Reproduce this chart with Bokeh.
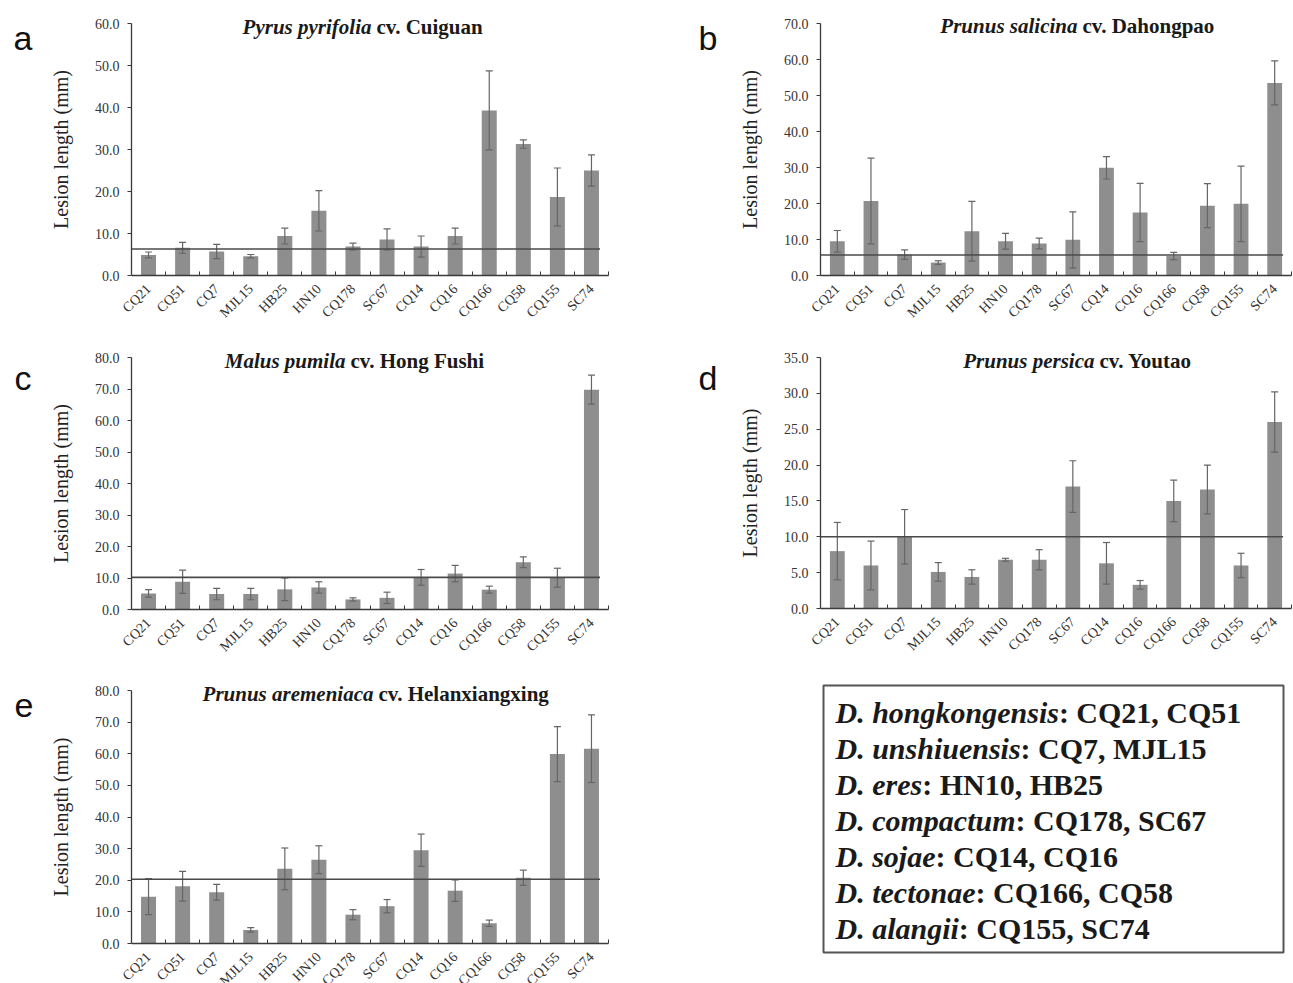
import math
from bokeh.plotting import figure
from bokeh.layouts import column, row
from bokeh.models import Range1d, FixedTicker, PrintfTickFormatter, Label
from bokeh.embed import file_html
from bokeh.resources import INLINE

# ---------------- data ----------------
strains = ["CQ21", "CQ51", "CQ7", "MJL15", "HB25", "HN10", "CQ178", "SC67",
           "CQ14", "CQ16", "CQ166", "CQ58", "CQ155", "SC74"]

a_mean = [4.9, 6.6, 5.7, 4.6, 9.4, 15.4, 6.9, 8.6, 6.9, 9.4, 39.3, 31.3, 18.7, 25.0]
a_sd = [0.7, 1.3, 1.7, 0.4, 1.9, 4.8, 0.8, 2.5, 2.5, 1.9, 9.4, 1.0, 6.9, 3.7]
a_ref = 6.3

b_mean = [9.5, 20.7, 5.8, 3.6, 12.3, 9.5, 8.9, 9.9, 29.9, 17.5, 5.4, 19.4, 19.9, 53.5]
b_sd = [3.0, 11.9, 1.3, 0.5, 8.3, 2.2, 1.5, 7.8, 3.1, 8.1, 1.0, 6.1, 10.5, 6.1]
b_ref = 5.7

c_mean = [5.1, 8.8, 4.9, 4.9, 6.4, 7.0, 3.2, 3.7, 10.2, 11.4, 6.3, 15.0, 10.1, 69.8]
c_sd = [1.2, 3.7, 1.8, 1.8, 3.6, 1.8, 0.5, 1.8, 2.5, 2.6, 1.1, 1.7, 3.0, 4.6]
c_ref = 10.2

d_mean = [8.0, 6.0, 10.0, 5.1, 4.4, 6.8, 6.8, 17.0, 6.3, 3.3, 15.0, 16.6, 6.0, 26.0]
d_sd = [4.0, 3.4, 3.8, 1.3, 1.0, 0.2, 1.4, 3.6, 2.9, 0.6, 2.9, 3.4, 1.7, 4.2]
d_ref = 10.0

e_mean = [14.8, 18.1, 16.2, 4.3, 23.6, 26.5, 9.1, 11.8, 29.5, 16.7, 6.4, 20.8, 59.9, 61.6]
e_sd = [5.7, 4.7, 2.5, 0.7, 6.6, 4.4, 1.6, 2.1, 5.1, 3.4, 1.0, 2.4, 8.7, 10.7]
e_ref = 20.3

titles_italic = ["Pyrus pyrifolia", "Prunus salicina", "Malus pumila", "Prunus persica", "Prunus aremeniaca"]
titles_rest = ["cv. Cuiguan", "cv. Dahongpao", "cv. Hong Fushi", "cv. Youtao", "cv. Helanxiangxing"]
y_labels = ["Lesion length (mm)", "Lesion length (mm)", "Lesion length (mm)", "Lesion legth (mm)", "Lesion length (mm)"]
letters = ["a", "b", "c", "d", "e"]

legend_species = ["D. hongkongensis", "D. unshiuensis", "D. eres", "D. compactum",
                  "D. sojae", "D. tectonae", "D. alangii"]
legend_strains = [": CQ21, CQ51", ": CQ7, MJL15", ": HN10, HB25", ": CQ178, SC67",
                  ": CQ14, CQ16", ": CQ166, CQ58", ": CQ155, SC74"]

# ---------------- style ----------------
SERIF = "Liberation Serif"
SANS = "Liberation Sans"
BAR = "#8e8e8e"
ERR = "#666666"
REF = "#4a4a4a"
AXIS = "#3a3a3a"
TXT = "#1a1a1a"
N = len(strains)

# Times bold-italic advance widths (per 1000 em) for legend layout
BI_W = {"D": 722, ".": 250, " ": 250, "h": 556, "o": 500, "n": 556, "g": 500, "k": 500,
        "e": 444, "s": 389, "i": 278, "u": 556, "r": 389, "c": 444, "m": 778, "p": 500,
        "t": 278, "a": 500, "j": 278, "l": 278}


def make_panel(W, H, fl, fr, ft, fb, ymax, ystep, means, sds, ref,
               t_it, t_rest, tj, ty, letter, lx, ly, ylabel):
    ppx = (fr - fl) / N
    ppy = (fb - ft) / ymax
    p = figure(frame_width=W, frame_height=H,
               x_range=Range1d(-fl / ppx, N + (W - fr) / ppx),
               y_range=Range1d(-(H - fb) / ppy, ymax + ft / ppy),
               output_backend="svg", toolbar_location=None, tools="",
               min_border=0)
    p.outline_line_color = None
    p.xgrid.visible = False
    p.ygrid.visible = False

    def dx(px):
        return (px - fl) / ppx

    def dy(py):
        return (fb - py) / ppy

    centers = [i + 0.5 for i in range(N)]
    lo = [m - s for m, s in zip(means, sds)]
    hi = [m + s for m, s in zip(means, sds)]
    cap = 3.5 / ppx

    p.vbar(x=centers, top=means, bottom=0, width=0.44, fill_color=BAR, line_color=None)
    p.segment(x0=centers, y0=lo, x1=centers, y1=hi, line_color=ERR, line_width=1.2)
    p.segment(x0=[c - cap for c in centers], y0=hi, x1=[c + cap for c in centers], y1=hi,
              line_color=ERR, line_width=1.2)
    p.segment(x0=[c - cap for c in centers], y0=lo, x1=[c + cap for c in centers], y1=lo,
              line_color=ERR, line_width=1.2)
    p.segment(x0=[0], y0=[ref], x1=[N - 0.25], y1=[ref], line_color=REF, line_width=1.6)

    # y axis, pinned at x = 0
    ya = p.yaxis[0]
    ya.fixed_location = 0
    ya.bounds = (0, ymax)
    ya.ticker = FixedTicker(ticks=[k * ystep for k in range(int(round(ymax / ystep)) + 1)])
    ya.formatter = PrintfTickFormatter(format="%.1f")
    ya.axis_line_color = AXIS
    ya.axis_line_width = 1.3
    ya.major_tick_line_color = AXIS
    ya.major_tick_in = 0
    ya.major_tick_out = 4
    ya.minor_tick_line_color = None
    ya.major_label_text_font = SERIF
    ya.major_label_text_font_size = "14px"
    ya.major_label_text_color = "#333333"
    ya.major_label_standoff = 8
    ya.axis_label = ylabel
    ya.axis_label_text_font = SERIF
    ya.axis_label_text_font_style = "normal"
    ya.axis_label_text_font_size = "20px"
    ya.axis_label_text_color = "#222222"
    ya.axis_label_standoff = 20

    # x axis, pinned at y = 0: labels at bar centres, small inward ticks at boundaries
    xa = p.xaxis[0]
    xa.fixed_location = 0
    xa.bounds = (0, N)
    xa.ticker = FixedTicker(ticks=centers, minor_ticks=list(range(1, N + 1)))
    xa.major_label_overrides = {c: s for c, s in zip(centers, strains)}
    xa.axis_line_color = AXIS
    xa.axis_line_width = 1.3
    xa.major_tick_line_color = None
    xa.minor_tick_line_color = AXIS
    xa.minor_tick_in = 4
    xa.minor_tick_out = 0
    xa.major_label_orientation = math.pi / 4
    xa.major_label_standoff = 5
    xa.major_label_text_font = SERIF
    xa.major_label_text_font_size = "14px"
    xa.major_label_text_color = "#333333"

    # title (italic + normal parts)
    p.add_layout(Label(x=dx(tj), y=dy(ty), text=t_it, text_font=SERIF,
                       text_font_style="bold italic", text_font_size="21px",
                       text_align="right", text_baseline="middle", text_color=TXT))
    p.add_layout(Label(x=dx(tj + 5), y=dy(ty), text=t_rest, text_font=SERIF,
                       text_font_style="bold", text_font_size="21px",
                       text_align="left", text_baseline="middle", text_color=TXT))
    # panel letter
    p.add_layout(Label(x=dx(lx), y=dy(ly), text=letter, text_font=SANS,
                       text_font_size="34px", text_align="left",
                       text_baseline="alphabetic", text_color="#111111"))
    return p


pa = make_panel(640, 330, 131, 608, 23, 275, 60, 10, a_mean, a_sd, a_ref,
                titles_italic[0], titles_rest[0], 371, 26, letters[0], 13, 37, y_labels[0])
pb = make_panel(653, 330, 180, 651, 23, 275, 70, 10, b_mean, b_sd, b_ref,
                titles_italic[1], titles_rest[1], 437, 25, letters[1], 58, 37, y_labels[1])
pc = make_panel(640, 330, 131, 608, 27, 279, 80, 10, c_mean, c_sd, c_ref,
                titles_italic[2], titles_rest[2], 345, 30, letters[2], 14, 47, y_labels[2])
pd_ = make_panel(653, 330, 180, 651, 27, 278, 35, 5, d_mean, d_sd, d_ref,
                 titles_italic[3], titles_rest[3], 454, 30, letters[3], 58, 47, y_labels[3])
pe = make_panel(640, 323, 131, 608, 30, 283, 80, 10, e_mean, e_sd, e_ref,
                titles_italic[4], titles_rest[4], 373, 33, letters[4], 14, 45, y_labels[4])

# ---------------- legend box ----------------
LW, LH = 653, 323
pl = figure(frame_width=LW, frame_height=LH, x_range=Range1d(0, LW), y_range=Range1d(LH, 0),
            output_backend="svg", toolbar_location=None, tools="",
            x_axis_location=None, y_axis_location=None, min_border=0)
pl.grid.visible = False
pl.outline_line_color = None
pl.quad(left=[183], right=[643], top=[25], bottom=[292], fill_color=None,
        line_color="#555555", line_width=2)
FS = 30
for k, (sp, st) in enumerate(zip(legend_species, legend_strains)):
    yk = 52 + 36 * k
    wsp = sum(BI_W.get(ch, 500) for ch in sp) * FS / 1000.0
    pl.add_layout(Label(x=195, y=yk, text=sp, text_font=SERIF, text_font_style="bold italic",
                        text_font_size=f"{FS}px", text_align="left", text_baseline="middle",
                        text_color=TXT))
    pl.add_layout(Label(x=195 + wsp, y=yk, text=st, text_font=SERIF, text_font_style="bold",
                        text_font_size=f"{FS}px", text_align="left", text_baseline="middle",
                        text_color=TXT))

layout = column(row(pa, pb), row(pc, pd_), row(pe, pl))

open("out.html", "w").write(file_html(layout, INLINE))
